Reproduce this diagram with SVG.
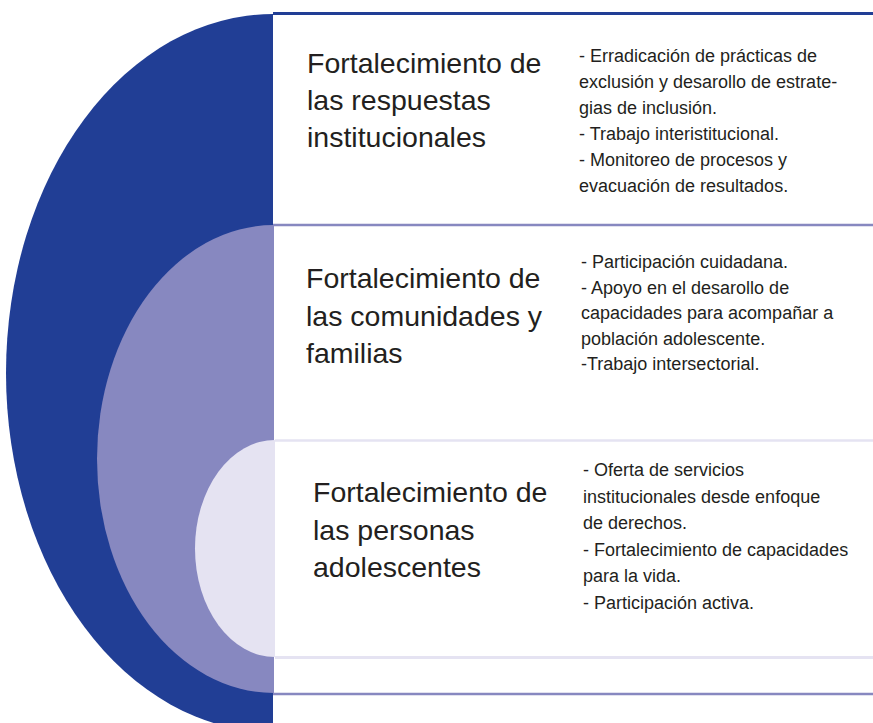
<svg xmlns="http://www.w3.org/2000/svg" width="873" height="723" viewBox="0 0 873 723">
<style>
.title{font-family:"Liberation Sans",Arial,sans-serif;font-size:28.5px;fill:#231f20}
.body{font-family:"Liberation Sans",Arial,sans-serif;font-size:18px;fill:#231f20}
</style>
<rect width="873" height="723" fill="#ffffff"/>
<g id="band-institucional">
<path d="M273 14 A267 359 0 0 0 273 732 Z" fill="#213e95"/>
</g>
<g id="band-comunidades">
<path d="M274 225 A177 234 0 0 0 274 693 Z" fill="#8788c0"/>
</g>
<g id="band-adolescentes">
<path d="M275 440 A80 108.5 0 0 0 275 657 Z" fill="#e5e3f2"/>
</g>
<g id="dividers" fill="none">
<line x1="273" y1="13.5" x2="873" y2="13.5" stroke="#213e95" stroke-width="3"/>
<line x1="273" y1="225" x2="873" y2="225" stroke="#8788c0" stroke-width="2.5"/>
<line x1="275" y1="440.5" x2="873" y2="440.5" stroke="#e5e3f2" stroke-width="2.5"/>
<line x1="275" y1="657.5" x2="873" y2="657.5" stroke="#e5e3f2" stroke-width="3"/>
<line x1="273" y1="694" x2="873" y2="694" stroke="#8788c0" stroke-width="2.5"/>
</g>
<g id="text-institucional">
<text class="title" x="307" y="73">Fortalecimiento de</text>
<text class="title" x="307" y="110">las respuestas</text>
<text class="title" x="307" y="147">institucionales</text>
<text class="body" x="579" y="61.5">- Erradicación de prácticas de</text>
<text class="body" x="579" y="87.5">exclusión y desarollo de estrate-</text>
<text class="body" x="579" y="113.5">gias de inclusión.</text>
<text class="body" x="579" y="139.5">- Trabajo interistitucional.</text>
<text class="body" x="579" y="165.5">- Monitoreo de procesos y</text>
<text class="body" x="579" y="191.5">evacuación de resultados.</text>
</g>
<g id="text-comunidades">
<text class="title" x="306" y="288">Fortalecimiento de</text>
<text class="title" x="306" y="325.5">las comunidades y</text>
<text class="title" x="306" y="363">familias</text>
<text class="body" x="581" y="268">- Participación cuidadana.</text>
<text class="body" x="581" y="293.5">- Apoyo en el desarollo de</text>
<text class="body" x="581" y="319">capacidades para acompañar a</text>
<text class="body" x="581" y="344.5">población adolescente.</text>
<text class="body" x="581" y="370">-Trabajo intersectorial.</text>
</g>
<g id="text-adolescentes">
<text class="title" x="313" y="502">Fortalecimiento de</text>
<text class="title" x="313" y="539.5">las personas</text>
<text class="title" x="313" y="577">adolescentes</text>
<text class="body" x="583" y="476">- Oferta de servicios</text>
<text class="body" x="583" y="502.5">institucionales desde enfoque</text>
<text class="body" x="583" y="529">de derechos.</text>
<text class="body" x="583" y="555.5">- Fortalecimiento de capacidades</text>
<text class="body" x="583" y="582">para la vida.</text>
<text class="body" x="583" y="608.5">- Participación activa.</text>
</g>
</svg>
